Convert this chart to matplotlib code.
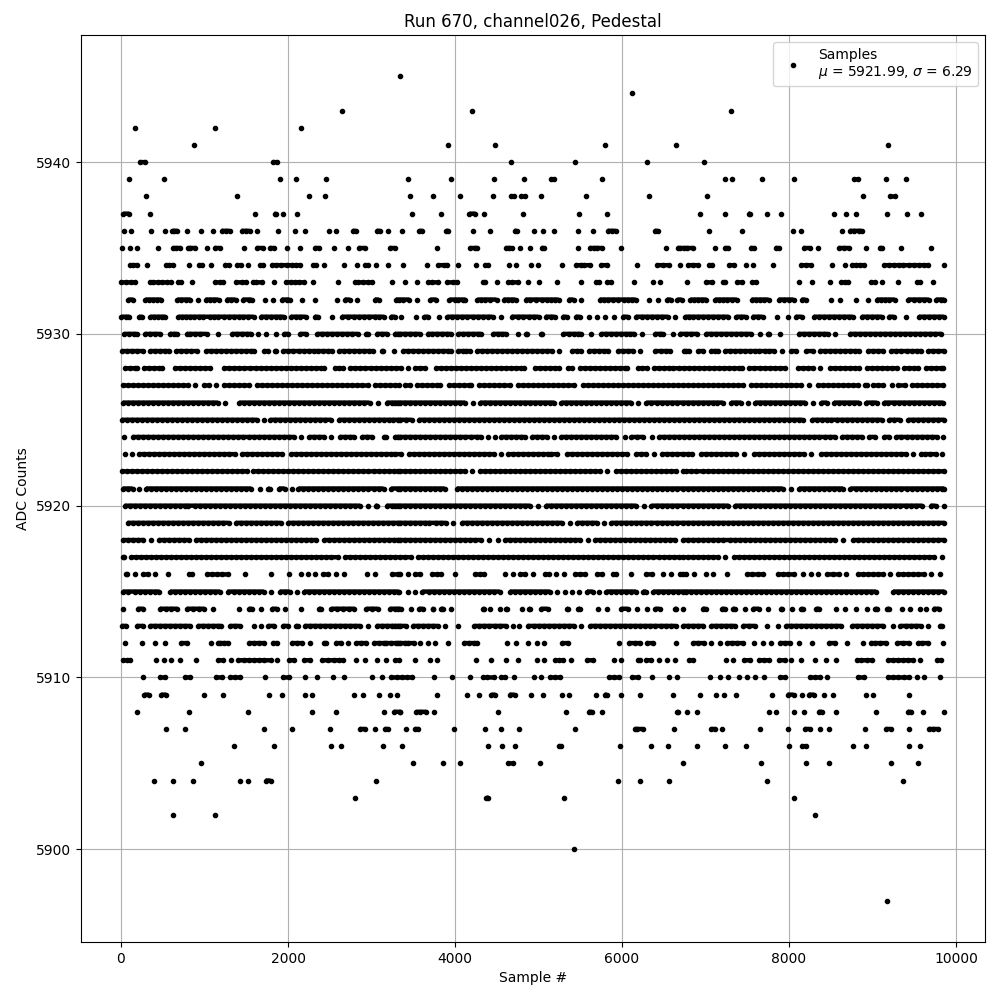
import matplotlib
matplotlib.use("Agg")
import matplotlib.pyplot as plt

# Sample numbers, one list per ADC count
s5945 = [3342]
s5944 = [6117]
s5943 = [2644, 4209, 7311]
s5942 = [172, 1120, 2152]
s5941 = [880, 3921, 4473, 5793, 6645, 9183]
s5940 = [232, 292, 1816, 1864, 4665, 5433, 6297, 6987]
s5939 = [100, 520, 1900, 2092, 2452, 3441, 3957, 4461, 4821, 5145, 5181, 5757, 7239, 7323, 7671, 8055, 8775, 8823, 9159, 9399]
s5938 = [304, 1384, 2248, 2440, 3465, 3741, 4065, 4449, 4665, 4701, 4785, 4833, 5025, 5565, 6321, 7023, 8883, 9207, 9267]
s5937 = [28, 100, 352, 1600, 1840, 1852, 1936, 2104, 3489, 3837, 4173, 4245, 4353, 4809, 5481, 5817, 6939, 7239, 7515, 7535, 7731, 7899, 8535, 8679, 8799, 9171, 9411, 9579]
s5936 = [40, 124, 364, 532, 616, 640, 676, 796, 964, 1096, 1204, 1252, 1300, 1444, 1492, 1540, 1624, 1876, 2080, 2200, 2488, 2572, 2776, 2812, 3064, 3100, 3200, 3369, 3573, 3609, 3897, 3921, 4221, 4425, 4713, 4737, 4941, 5049, 5181, 5469, 5649, 5829, 5877, 5925, 6393, 6429, 7047, 7431, 8043, 8139, 8631, 8727, 8775, 8835, 8871]
s5935 = [16, 112, 196, 448, 628, 664, 712, 808, 832, 892, 1024, 1120, 1180, 1468, 1624, 1696, 1780, 1828, 1992, 2140, 2320, 2368, 2548, 2716, 2848, 2920, 3220, 3280, 3789, 4185, 4245, 4269, 4605, 4641, 4677, 4773, 4893, 5037, 5061, 5469, 5613, 5661, 5697, 5757, 5985, 6525, 6669, 6693, 6747, 6783, 6855, 7119, 7239, 7275, 7539, 7575, 7839, 7875, 8175, 8247, 8343, 8595, 8655, 8715, 8919, 9087, 9111, 9339, 9699]
s5934 = [108, 148, 188, 316, 540, 580, 628, 816, 940, 976, 1072, 1240, 1288, 1384, 1432, 1524, 1660, 1696, 1804, 1852, 1912, 1984, 2048, 2092, 2140, 2296, 2332, 2428, 2668, 2824, 2920, 2956, 3052, 3196, 3381, 3669, 3801, 3873, 3909, 4041, 4257, 4365, 4401, 4641, 4725, 4905, 4989, 5277, 5445, 5505, 5541, 5613, 5745, 5817, 6177, 6417, 6489, 6561, 6693, 6795, 6855, 6915, 7047, 7083, 7287, 7347, 7479, 7563, 7803, 8139, 8199, 8259, 8511, 8667, 8751, 8799, 8847, 8895, 9135, 9195, 9255, 9315, 9363, 9435, 9495, 9555, 9615, 9663, 9855]
s5933 = [4, 64, 124, 172, 352, 388, 448, 496, 556, 604, 688, 724, 848, 1120, 1180, 1216, 1372, 1444, 1492, 1576, 1612, 1684, 1828, 1972, 2032, 2080, 2128, 2188, 2296, 2596, 2800, 2836, 2896, 2956, 3008, 3244, 3405, 3549, 3681, 3729, 3801, 3909, 3981, 4029, 4341, 4365, 4497, 4629, 4677, 4749, 4869, 5001, 5217, 5505, 5685, 5721, 5817, 5865, 6141, 6369, 6453, 6783, 7011, 7083, 7215, 7239, 7383, 7431, 7551, 7599, 8115, 8271, 8487, 8619, 8667, 8703, 8979, 9027, 9111, 9303, 9531, 9567, 9723]
s5932 = [88, 148, 292, 340, 388, 436, 484, 676, 724, 784, 832, 928, 1012, 1060, 1108, 1168, 1264, 1312, 1372, 1456, 1528, 1564, 1720, 1816, 1924, 1984, 2020, 2164, 2320, 2584, 2680, 2740, 2824, 3040, 3088, 3292, 3329, 3377, 3453, 3549, 3705, 3777, 3933, 4005, 4041, 4101, 4125, 4269, 4317, 4365, 4425, 4497, 4581, 4629, 4677, 4725, 4845, 4893, 4965, 5037, 5097, 5145, 5193, 5241, 5361, 5421, 5505, 5733, 5781, 5829, 5889, 5949, 6021, 6069, 6117, 6165, 6321, 6429, 6537, 6585, 6663, 6715, 6819, 6867, 6915, 6963, 7011, 7115, 7163, 7211, 7259, 7315, 7375, 7551, 7599, 7647, 7695, 7755, 7875, 7935, 7995, 8055, 8151, 8199, 8499, 8607, 8799, 8947, 9051, 9099, 9147, 9195, 9267, 9423, 9495, 9555, 9615, 9675, 9759, 9819, 9860]
s5931 = [4, 64, 100, 220, 256, 352, 400, 448, 496, 532, 688, 736, 784, 832, 880, 940, 988, 1060, 1108, 1156, 1228, 1288, 1348, 1408, 1456, 1516, 1588, 1672, 1732, 1792, 1852, 1900, 1948, 2032, 2092, 2140, 2212, 2320, 2356, 2524, 2644, 2716, 2788, 2848, 2908, 2968, 3040, 3088, 3148, 3232, 3280, 3357, 3537, 3633, 3681, 3813, 3909, 3969, 4029, 4089, 4149, 4221, 4281, 4341, 4401, 4449, 4545, 4677, 4749, 4809, 4881, 4941, 5001, 5085, 5145, 5193, 5289, 5337, 5445, 5493, 5601, 5697, 5793, 5901, 6009, 6069, 6165, 6237, 6297, 6357, 6417, 6477, 6549, 6635, 6759, 6807, 6855, 6915, 6975, 7035, 7095, 7155, 7215, 7275, 7371, 7427, 7479, 7563, 7623, 7683, 7851, 7983, 8079, 8151, 8295, 8355, 8415, 8475, 8535, 8595, 8655, 8715, 8763, 8871, 8931, 8991, 9051, 9111, 9195, 9255, 9399, 9555, 9615, 9675, 9735, 9795, 9855]
s5930 = [40, 100, 150, 188, 288, 350, 410, 464, 588, 630, 668, 792, 824, 892, 952, 1024, 1156, 1332, 1390, 1450, 1510, 1556, 1636, 1732, 1852, 1956, 2000, 2148, 2216, 2352, 2412, 2472, 2532, 2592, 2652, 2712, 2772, 2836, 2940, 2956, 3060, 3120, 3188, 3281, 3316, 3340, 3400, 3460, 3520, 3577, 3673, 3730, 3790, 3850, 3900, 3949, 4041, 4100, 4160, 4220, 4280, 4309, 4453, 4510, 4560, 4609, 4749, 4853, 4861, 5033, 5041, 5297, 5360, 5420, 5470, 5509, 5633, 5753, 5810, 5870, 5930, 5990, 6050, 6100, 6149, 6237, 6393, 6450, 6489, 6605, 6693, 6767, 6830, 6903, 7007, 7070, 7130, 7190, 7250, 7310, 7370, 7430, 7490, 7543, 7647, 7747, 7763, 7895, 8115, 8175, 8235, 8295, 8355, 8415, 8463, 8555, 8727, 8790, 8850, 8910, 8970, 9030, 9090, 9150, 9210, 9270, 9330, 9390, 9450, 9510, 9570, 9630, 9690, 9750, 9823]
s5929 = [12, 72, 132, 192, 260, 352, 412, 472, 532, 576, 660, 720, 780, 836, 908, 1020, 1080, 1140, 1200, 1260, 1320, 1380, 1440, 1500, 1560, 1588, 1716, 1756, 1840, 1856, 1940, 2000, 2056, 2132, 2192, 2252, 2312, 2356, 2420, 2476, 2524, 2612, 2672, 2732, 2792, 2852, 2912, 2972, 3016, 3120, 3136, 3272, 3373, 3433, 3493, 3553, 3613, 3673, 3733, 3793, 3853, 3913, 3949, 4033, 4093, 4137, 4177, 4265, 4325, 4385, 4445, 4505, 4565, 4625, 4685, 4745, 4805, 4865, 4925, 4985, 5045, 5105, 5165, 5249, 5401, 5455, 5509, 5605, 5665, 5725, 5785, 5837, 5953, 6013, 6073, 6133, 6217, 6401, 6461, 6521, 6569, 6741, 6761, 6803, 6915, 6971, 7067, 7111, 7151, 7235, 7295, 7355, 7415, 7475, 7535, 7595, 7635, 7707, 7761, 7815, 7915, 8027, 8083, 8207, 8283, 8367, 8427, 8487, 8547, 8607, 8667, 8727, 8787, 8835, 8947, 9007, 9067, 9131, 9227, 9287, 9347, 9407, 9467, 9527, 9583, 9667, 9727, 9787, 9860]
s5928 = [44, 104, 164, 196, 276, 336, 396, 456, 496, 648, 708, 768, 828, 888, 948, 1008, 1068, 1232, 1292, 1352, 1412, 1472, 1544, 1620, 1680, 1740, 1800, 1860, 1920, 1980, 2040, 2100, 2160, 2220, 2280, 2340, 2400, 2428, 2564, 2612, 2660, 2748, 2808, 2868, 2928, 2988, 3048, 3108, 3168, 3228, 3288, 3349, 3443, 3521, 3581, 3641, 3773, 3833, 3893, 3953, 4013, 4073, 4133, 4193, 4253, 4313, 4373, 4433, 4493, 4553, 4613, 4673, 4733, 4793, 4829, 4961, 5021, 5081, 5141, 5201, 5241, 5353, 5397, 5497, 5557, 5617, 5677, 5737, 5797, 5857, 5917, 5977, 6037, 6061, 6193, 6245, 6297, 6385, 6445, 6505, 6565, 6609, 6685, 6739, 6799, 6859, 6919, 6979, 7039, 7099, 7159, 7219, 7279, 7339, 7399, 7431, 7523, 7575, 7651, 7711, 7771, 7831, 7891, 7951, 8107, 8167, 8227, 8287, 8371, 8491, 8551, 8611, 8671, 8731, 8791, 8835, 8931, 8991, 9051, 9111, 9171, 9231, 9291, 9379, 9439, 9499, 9547, 9635, 9695, 9755, 9815, 9847]
s5927 = [20, 80, 140, 200, 260, 320, 380, 440, 500, 560, 620, 680, 740, 800, 884, 992, 1052, 1136, 1232, 1292, 1352, 1412, 1472, 1528, 1628, 1688, 1748, 1808, 1868, 1928, 1988, 2048, 2108, 2168, 2228, 2288, 2348, 2408, 2468, 2528, 2588, 2648, 2708, 2768, 2828, 2888, 2956, 3040, 3100, 3160, 3220, 3280, 3325, 3405, 3461, 3545, 3605, 3665, 3725, 3785, 3821, 3929, 3989, 4049, 4109, 4169, 4197, 4285, 4345, 4405, 4465, 4525, 4585, 4661, 4753, 4813, 4873, 4933, 4993, 5053, 5113, 5173, 5233, 5293, 5353, 5429, 5533, 5593, 5653, 5713, 5773, 5833, 5893, 5953, 6013, 6073, 6133, 6193, 6253, 6313, 6373, 6433, 6493, 6553, 6613, 6673, 6729, 6785, 6845, 6905, 6965, 7025, 7085, 7145, 7205, 7265, 7325, 7385, 7451, 7543, 7603, 7663, 7723, 7783, 7843, 7903, 7963, 8023, 8083, 8143, 8235, 8347, 8407, 8467, 8527, 8587, 8647, 8707, 8767, 8823, 8911, 8931, 9011, 9071, 9131, 9231, 9311, 9387, 9475, 9535, 9595, 9655, 9715, 9775, 9847]
s5926 = [20, 80, 140, 200, 260, 320, 380, 440, 500, 560, 620, 680, 740, 800, 860, 920, 980, 1040, 1100, 1160, 1244, 1416, 1476, 1536, 1596, 1656, 1716, 1776, 1836, 1896, 1956, 2016, 2076, 2136, 2196, 2256, 2316, 2376, 2436, 2496, 2556, 2616, 2676, 2736, 2796, 2856, 2916, 2976, 3076, 3180, 3240, 3316, 3281, 3341, 3401, 3461, 3521, 3581, 3641, 3701, 3761, 3821, 3881, 3941, 4001, 4061, 4121, 4221, 4301, 4361, 4421, 4481, 4541, 4601, 4661, 4721, 4781, 4841, 4901, 4961, 5021, 5081, 5141, 5189, 5273, 5333, 5393, 5453, 5513, 5573, 5633, 5693, 5753, 5813, 5873, 5933, 5993, 6053, 6113, 6197, 6293, 6353, 6413, 6473, 6533, 6593, 6653, 6729, 6785, 6845, 6905, 6965, 7025, 7085, 7135, 7207, 7307, 7367, 7427, 7511, 7595, 7655, 7715, 7775, 7835, 7895, 7955, 8015, 8075, 8135, 8195, 8283, 8387, 8455, 8539, 8599, 8659, 8719, 8779, 8839, 8923, 8999, 9051, 9139, 9183, 9259, 9319, 9379, 9439, 9499, 9559, 9619, 9679, 9739, 9799, 9847]
s5925 = [8, 68, 128, 188, 248, 308, 368, 428, 488, 548, 608, 668, 728, 788, 848, 908, 968, 1028, 1088, 1148, 1208, 1268, 1328, 1388, 1448, 1508, 1568, 1628, 1708, 1788, 1848, 1908, 1968, 2028, 2088, 2148, 2208, 2268, 2328, 2388, 2448, 2516, 2608, 2668, 2728, 2788, 2848, 2908, 2968, 3028, 3088, 3148, 3208, 3256, 3316, 3337, 3409, 3481, 3565, 3625, 3685, 3745, 3805, 3865, 3925, 3985, 4045, 4105, 4165, 4225, 4285, 4345, 4405, 4465, 4525, 4585, 4645, 4705, 4765, 4825, 4885, 4945, 5005, 5065, 5125, 5185, 5245, 5305, 5365, 5425, 5485, 5545, 5605, 5665, 5725, 5785, 5845, 5905, 5965, 6025, 6085, 6145, 6205, 6265, 6325, 6385, 6445, 6505, 6565, 6625, 6685, 6745, 6805, 6865, 6925, 6985, 7045, 7105, 7165, 7225, 7285, 7345, 7405, 7465, 7525, 7585, 7645, 7705, 7765, 7825, 7885, 7945, 8005, 8065, 8125, 8163, 8275, 8335, 8395, 8455, 8503, 8579, 8639, 8699, 8759, 8819, 8879, 8939, 8999, 9059, 9111, 9199, 9259, 9327, 9427, 9487, 9547, 9607, 9667, 9727, 9787, 9859]
s5924 = [40, 140, 200, 260, 320, 380, 440, 500, 560, 620, 680, 740, 800, 860, 920, 980, 1040, 1100, 1160, 1220, 1280, 1340, 1400, 1456, 1532, 1592, 1652, 1712, 1772, 1832, 1892, 1952, 2012, 2072, 2156, 2256, 2316, 2376, 2436, 2516, 2620, 2680, 2740, 2788, 2888, 2946, 3004, 3152, 3168, 3284, 3316, 3341, 3401, 3461, 3521, 3581, 3641, 3701, 3761, 3821, 3881, 3941, 4001, 4061, 4121, 4189, 4265, 4313, 4393, 4473, 4553, 4613, 4673, 4733, 4793, 4833, 4921, 4981, 5041, 5101, 5185, 5273, 5333, 5393, 5453, 5513, 5573, 5633, 5693, 5753, 5813, 5873, 5933, 6033, 6113, 6177, 6253, 6357, 6445, 6505, 6565, 6625, 6685, 6745, 6805, 6865, 6925, 6985, 7045, 7105, 7165, 7225, 7285, 7345, 7405, 7465, 7525, 7585, 7645, 7705, 7765, 7825, 7885, 7945, 8005, 8065, 8125, 8185, 8245, 8305, 8365, 8425, 8485, 8551, 8635, 8695, 8755, 8815, 8875, 8963, 9035, 9139, 9203, 9287, 9347, 9407, 9467, 9527, 9587, 9647, 9707, 9767, 9847]
s5923 = [44, 128, 212, 272, 332, 392, 452, 512, 572, 632, 692, 752, 812, 872, 932, 992, 1052, 1112, 1172, 1232, 1292, 1364, 1448, 1508, 1568, 1628, 1688, 1748, 1808, 1868, 1924, 2036, 2096, 2156, 2216, 2276, 2336, 2396, 2456, 2516, 2576, 2636, 2696, 2756, 2816, 2876, 2936, 2996, 3056, 3116, 3176, 3236, 3281, 3349, 3445, 3505, 3565, 3625, 3685, 3745, 3805, 3865, 3925, 3985, 4045, 4105, 4165, 4225, 4285, 4345, 4405, 4465, 4549, 4633, 4693, 4753, 4813, 4873, 4933, 4993, 5053, 5113, 5149, 5225, 5341, 5401, 5461, 5521, 5581, 5641, 5701, 5761, 5821, 5881, 5941, 6001, 6061, 6169, 6229, 6289, 6389, 6473, 6533, 6593, 6653, 6729, 6785, 6843, 6943, 7003, 7063, 7123, 7183, 7243, 7303, 7363, 7455, 7579, 7639, 7699, 7759, 7819, 7879, 7939, 7999, 8059, 8119, 8179, 8259, 8383, 8443, 8503, 8563, 8623, 8683, 8743, 8803, 8863, 8923, 8983, 9043, 9103, 9163, 9223, 9283, 9343, 9403, 9483, 9575, 9630, 9683, 9755, 9835]
s5922 = [8, 68, 128, 188, 248, 308, 368, 428, 488, 548, 608, 668, 728, 788, 848, 908, 968, 1028, 1088, 1148, 1208, 1268, 1328, 1388, 1448, 1504, 1584, 1644, 1704, 1764, 1824, 1884, 1944, 2004, 2064, 2124, 2184, 2244, 2304, 2364, 2424, 2484, 2544, 2604, 2664, 2724, 2784, 2844, 2904, 2964, 3024, 3084, 3144, 3204, 3264, 3316, 3341, 3401, 3461, 3521, 3581, 3641, 3701, 3761, 3821, 3881, 3941, 4001, 4061, 4121, 4201, 4297, 4357, 4417, 4477, 4537, 4597, 4657, 4717, 4777, 4837, 4897, 4957, 5017, 5077, 5137, 5197, 5257, 5317, 5377, 5437, 5497, 5557, 5617, 5677, 5737, 5817, 5929, 5989, 6049, 6109, 6169, 6229, 6289, 6349, 6409, 6469, 6529, 6589, 6649, 6729, 6769, 6829, 6891, 6967, 7027, 7087, 7147, 7207, 7267, 7327, 7387, 7447, 7507, 7567, 7627, 7687, 7747, 7807, 7867, 7927, 7987, 8047, 8107, 8167, 8227, 8287, 8347, 8407, 8467, 8527, 8587, 8647, 8707, 8767, 8827, 8887, 8947, 9007, 9067, 9127, 9187, 9247, 9307, 9367, 9427, 9487, 9547, 9607, 9667, 9727, 9787, 9859]
s5921 = [20, 80, 140, 220, 300, 360, 420, 480, 540, 600, 660, 720, 780, 840, 900, 960, 1020, 1080, 1140, 1200, 1260, 1320, 1380, 1440, 1500, 1560, 1660, 1764, 1780, 1892, 1960, 2044, 2124, 2184, 2244, 2304, 2364, 2424, 2484, 2544, 2604, 2664, 2724, 2784, 2844, 2904, 2964, 3024, 3084, 3144, 3236, 3312, 3341, 3401, 3461, 3521, 3581, 3641, 3701, 3761, 3821, 3877, 4021, 4081, 4141, 4201, 4261, 4321, 4381, 4441, 4501, 4561, 4621, 4681, 4741, 4801, 4861, 4921, 4981, 5041, 5101, 5161, 5221, 5281, 5341, 5401, 5461, 5521, 5581, 5641, 5701, 5761, 5821, 5881, 5941, 6001, 6061, 6121, 6181, 6241, 6301, 6361, 6421, 6481, 6541, 6601, 6661, 6729, 6785, 6845, 6905, 6965, 7025, 7085, 7145, 7205, 7265, 7325, 7385, 7445, 7505, 7565, 7625, 7685, 7745, 7805, 7865, 7925, 8023, 8119, 8179, 8239, 8299, 8359, 8419, 8479, 8539, 8599, 8647, 8735, 8807, 8867, 8927, 8987, 9047, 9107, 9167, 9227, 9287, 9347, 9407, 9467, 9527, 9587, 9647, 9707, 9767, 9827, 9860]
s5920 = [44, 104, 164, 224, 284, 344, 404, 464, 524, 584, 644, 704, 764, 808, 884, 944, 1004, 1064, 1124, 1184, 1244, 1304, 1364, 1424, 1484, 1544, 1604, 1664, 1724, 1784, 1844, 1904, 1964, 2024, 2084, 2144, 2204, 2264, 2324, 2384, 2444, 2504, 2564, 2624, 2684, 2744, 2804, 2864, 2956, 3048, 3068, 3180, 3240, 3316, 3281, 3341, 3401, 3461, 3521, 3581, 3641, 3701, 3761, 3821, 3881, 3941, 4001, 4061, 4121, 4181, 4241, 4301, 4361, 4421, 4481, 4541, 4601, 4661, 4721, 4781, 4841, 4901, 4997, 5089, 5149, 5209, 5269, 5329, 5389, 5449, 5509, 5569, 5629, 5689, 5749, 5809, 5869, 5929, 5989, 6049, 6109, 6169, 6269, 6353, 6413, 6473, 6533, 6593, 6653, 6729, 6785, 6845, 6905, 6965, 7025, 7085, 7145, 7205, 7275, 7355, 7415, 7475, 7535, 7595, 7655, 7715, 7775, 7835, 7895, 7955, 8015, 8075, 8135, 8195, 8255, 8315, 8375, 8435, 8495, 8555, 8615, 8675, 8735, 8795, 8855, 8915, 8975, 9035, 9095, 9155, 9215, 9275, 9335, 9395, 9455, 9523, 9595, 9695, 9755, 9860]
s5919 = [80, 140, 200, 260, 320, 380, 440, 500, 560, 620, 680, 740, 800, 860, 920, 980, 1040, 1100, 1160, 1220, 1288, 1376, 1436, 1496, 1556, 1616, 1676, 1736, 1796, 1856, 1912, 2000, 2060, 2120, 2180, 2240, 2300, 2360, 2420, 2480, 2540, 2600, 2660, 2720, 2780, 2840, 2900, 2960, 3020, 3080, 3140, 3200, 3260, 3316, 3341, 3401, 3461, 3521, 3581, 3641, 3693, 3769, 3829, 3889, 3981, 4081, 4141, 4201, 4261, 4321, 4381, 4441, 4501, 4561, 4621, 4681, 4741, 4801, 4861, 4921, 4981, 5041, 5101, 5161, 5221, 5281, 5377, 5461, 5521, 5581, 5641, 5701, 5781, 5873, 5933, 5993, 6053, 6113, 6173, 6233, 6293, 6353, 6413, 6473, 6533, 6593, 6653, 6729, 6785, 6845, 6905, 6965, 7025, 7085, 7145, 7205, 7265, 7325, 7385, 7445, 7505, 7565, 7625, 7685, 7745, 7805, 7865, 7925, 7985, 8045, 8105, 8165, 8225, 8285, 8345, 8405, 8465, 8525, 8585, 8645, 8705, 8765, 8825, 8885, 8945, 9005, 9065, 9125, 9185, 9245, 9305, 9365, 9425, 9485, 9545, 9605, 9665, 9725, 9785, 9859]
s5918 = [28, 88, 148, 208, 268, 364, 452, 512, 572, 632, 692, 752, 812, 896, 956, 1016, 1076, 1136, 1196, 1256, 1316, 1376, 1436, 1496, 1556, 1616, 1676, 1736, 1796, 1856, 1916, 1976, 2036, 2096, 2156, 2216, 2276, 2336, 2432, 2492, 2552, 2612, 2672, 2732, 2792, 2852, 2912, 2972, 3032, 3092, 3152, 3212, 3272, 3316, 3341, 3401, 3461, 3521, 3581, 3641, 3701, 3761, 3821, 3881, 3941, 4001, 4061, 4121, 4181, 4241, 4309, 4413, 4509, 4601, 4661, 4721, 4781, 4841, 4901, 4961, 5021, 5081, 5141, 5201, 5261, 5321, 5381, 5441, 5501, 5597, 5677, 5737, 5797, 5857, 5917, 5977, 6037, 6097, 6157, 6217, 6277, 6337, 6397, 6457, 6517, 6577, 6635, 6729, 6789, 6849, 6909, 6969, 7029, 7089, 7149, 7215, 7291, 7351, 7411, 7471, 7531, 7591, 7651, 7711, 7771, 7831, 7891, 7951, 8011, 8071, 8131, 8191, 8251, 8311, 8371, 8431, 8491, 8551, 8643, 8767, 8827, 8887, 8947, 9007, 9067, 9127, 9187, 9247, 9307, 9367, 9427, 9487, 9547, 9607, 9667, 9727, 9787, 9859]
s5917 = [20, 36, 120, 180, 240, 300, 360, 420, 480, 540, 600, 660, 720, 780, 840, 900, 960, 1020, 1080, 1140, 1200, 1260, 1320, 1380, 1440, 1500, 1560, 1620, 1680, 1740, 1800, 1860, 1920, 1980, 2040, 2100, 2160, 2220, 2280, 2340, 2400, 2460, 2520, 2596, 2684, 2744, 2804, 2864, 2924, 2984, 3044, 3104, 3164, 3224, 3284, 3341, 3401, 3477, 3557, 3617, 3677, 3737, 3797, 3857, 3917, 3977, 4037, 4097, 4157, 4217, 4277, 4337, 4397, 4457, 4517, 4577, 4637, 4697, 4757, 4817, 4877, 4937, 4997, 5057, 5117, 5177, 5237, 5297, 5357, 5417, 5477, 5537, 5597, 5657, 5717, 5777, 5837, 5897, 5957, 6017, 6077, 6137, 6197, 6257, 6317, 6377, 6437, 6497, 6557, 6617, 6677, 6729, 6785, 6845, 6905, 6965, 7025, 7085, 7145, 7231, 7339, 7399, 7459, 7519, 7579, 7639, 7699, 7759, 7819, 7879, 7939, 7999, 8059, 8119, 8179, 8239, 8299, 8359, 8419, 8479, 8539, 8599, 8659, 8719, 8779, 8839, 8899, 8959, 9019, 9079, 9139, 9199, 9259, 9319, 9379, 9439, 9499, 9559, 9619, 9679, 9739, 9835]
s5916 = [60, 76, 172, 260, 320, 412, 568, 812, 856, 1028, 1090, 1150, 1208, 1276, 1480, 1792, 2008, 2152, 2236, 2326, 2420, 2480, 2576, 2668, 2944, 3040, 3240, 3316, 3341, 3441, 3525, 3585, 3721, 3780, 3837, 4005, 4241, 4300, 4353, 4601, 4689, 4777, 4840, 4929, 5081, 5121, 5213, 5301, 5441, 5500, 5553, 5705, 5757, 5897, 5925, 6105, 6293, 6360, 6489, 6585, 6693, 6729, 6763, 6867, 7007, 7095, 7263, 7495, 7560, 7625, 7683, 7867, 7930, 7990, 8055, 8163, 8259, 8343, 8459, 8525, 8595, 8687, 8831, 8890, 8950, 9010, 9070, 9130, 9211, 9307, 9367, 9427, 9487, 9547, 9615, 9699, 9807]
s5915 = [20, 88, 164, 224, 284, 344, 404, 460, 588, 648, 708, 768, 828, 888, 948, 1008, 1068, 1128, 1188, 1276, 1352, 1412, 1472, 1532, 1592, 1652, 1712, 1796, 1900, 1960, 2020, 2104, 2192, 2252, 2312, 2372, 2432, 2492, 2552, 2612, 2672, 2732, 2792, 2852, 2912, 2972, 3032, 3092, 3152, 3212, 3272, 3316, 3325, 3433, 3520, 3609, 3685, 3745, 3805, 3865, 3925, 3985, 4045, 4105, 4165, 4225, 4285, 4345, 4405, 4465, 4537, 4657, 4717, 4777, 4837, 4897, 4957, 5017, 5077, 5137, 5217, 5313, 5401, 5481, 5581, 5650, 5729, 5813, 5873, 5933, 5993, 6053, 6113, 6169, 6253, 6289, 6373, 6433, 6493, 6553, 6613, 6673, 6729, 6763, 6823, 6883, 6943, 7003, 7063, 7123, 7183, 7243, 7303, 7363, 7423, 7483, 7543, 7603, 7663, 7723, 7783, 7843, 7903, 7963, 8023, 8083, 8143, 8203, 8263, 8323, 8383, 8443, 8503, 8563, 8623, 8683, 8743, 8803, 8863, 8923, 8983, 9043, 9247, 9307, 9367, 9427, 9487, 9547, 9607, 9667, 9727, 9787, 9860]
s5914 = [28, 200, 268, 468, 536, 604, 676, 788, 860, 930, 996, 1096, 1414, 1532, 1568, 1672, 1812, 1868, 1960, 2152, 2372, 2396, 2520, 2590, 2660, 2730, 2796, 2940, 3000, 3076, 3220, 3316, 3281, 3349, 3477, 3569, 3617, 3733, 3737, 3833, 3861, 3957, 4337, 4345, 4425, 4533, 4613, 4621, 4797, 4889, 4897, 5033, 5109, 5345, 5353, 5477, 5497, 5709, 5817, 5993, 6069, 6185, 6300, 6400, 6449, 6633, 6649, 6735, 6967, 7003, 7199, 7231, 7331, 7351, 7467, 7571, 7640, 7747, 7907, 7915, 8037, 8147, 8163, 8327, 8363, 8559, 8667, 8799, 8931, 9035, 9055, 9179, 9203, 9351, 9447, 9563, 9643, 9731, 9799]
s5913 = [8, 64, 192, 264, 348, 408, 468, 528, 588, 648, 708, 768, 828, 920, 980, 1040, 1100, 1160, 1196, 1308, 1364, 1420, 1592, 1676, 1764, 1836, 1940, 1996, 2100, 2116, 2200, 2260, 2320, 2380, 2440, 2500, 2560, 2620, 2680, 2740, 2800, 2860, 2956, 3060, 3120, 3180, 3240, 3316, 3281, 3345, 3409, 3493, 3553, 3613, 3673, 3733, 3793, 3881, 4041, 4233, 4293, 4353, 4413, 4473, 4533, 4609, 4689, 4769, 4869, 4945, 5005, 5065, 5125, 5185, 5245, 5305, 5365, 5425, 5513, 5621, 5681, 5741, 5801, 5861, 5921, 5981, 6041, 6101, 6161, 6221, 6281, 6341, 6401, 6461, 6521, 6581, 6641, 6729, 6795, 6855, 6915, 6975, 7067, 7127, 7187, 7247, 7307, 7351, 7447, 7520, 7591, 7731, 7869, 7967, 8027, 8087, 8147, 8207, 8267, 8327, 8387, 8447, 8507, 8567, 8623, 8755, 8815, 8875, 8935, 8995, 9055, 9131, 9243, 9335, 9395, 9455, 9515, 9575, 9663, 9807, 9827]
s5912 = [52, 256, 412, 532, 724, 796, 1072, 1156, 1188, 1228, 1276, 1532, 1592, 1652, 1716, 1816, 1868, 2044, 2108, 2164, 2260, 2428, 2460, 2572, 2640, 2724, 2820, 2880, 2940, 3024, 3084, 3144, 3172, 3232, 3292, 3316, 3341, 3401, 3441, 3505, 3585, 3673, 3761, 3921, 4105, 4165, 4225, 4269, 4617, 4725, 4869, 4977, 5061, 5281, 5353, 5961, 6081, 6153, 6213, 6297, 6369, 6645, 6855, 6915, 6979, 7067, 7179, 7263, 7323, 7383, 7443, 7575, 7683, 7787, 7887, 7947, 8007, 8115, 8275, 8475, 8551, 8691, 8883, 8979, 9027, 9087, 9159, 9291, 9363, 9435, 9543, 9591, 9663, 9843]
s5911 = [28, 72, 104, 424, 520, 604, 712, 904, 1156, 1216, 1312, 1396, 1468, 1532, 1592, 1652, 1716, 1792, 1872, 2008, 2076, 2188, 2260, 2404, 2476, 2548, 2612, 2656, 2812, 2920, 3068, 3168, 3276, 3329, 3525, 3705, 3789, 4257, 4437, 4605, 4749, 4977, 5061, 5193, 5241, 5289, 5385, 5577, 5649, 5901, 5990, 6193, 6213, 6293, 6353, 6440, 6537, 6637, 6800, 6855, 7251, 7335, 7455, 7527, 7635, 7695, 7755, 7875, 7947, 8027, 8147, 8307, 8439, 8559, 8811, 8859, 8931, 8991, 9183, 9243, 9303, 9363, 9423, 9483, 9567, 9771, 9819]
s5910 = [268, 472, 532, 772, 832, 1132, 1204, 1300, 1360, 1420, 1720, 1936, 2008, 2200, 2348, 2536, 2668, 3004, 3124, 3232, 3300, 3369, 3429, 3481, 3753, 3969, 4185, 4341, 4389, 4461, 4545, 4593, 4701, 4941, 5025, 5133, 5193, 5253, 5841, 5901, 5961, 6117, 6189, 6357, 6561, 6661, 7059, 7179, 7275, 7399, 7491, 7587, 7695, 7887, 7947, 8247, 8307, 8367, 8451, 8823, 8895, 9183, 9248, 9311, 9371, 9431, 9535, 9615, 9807]
s5909 = [280, 336, 480, 540, 992, 1216, 1768, 1924, 2200, 2284, 2788, 2896, 3088, 3220, 3309, 3789, 4149, 4293, 4437, 4481, 4653, 4713, 4905, 5049, 5277, 5361, 5685, 5793, 5817, 5985, 6213, 6609, 6939, 7131, 7227, 7371, 7791, 7983, 8055, 8151, 8235, 8300, 8415, 8523, 8919, 9003, 9431]
s5908 = [196, 820, 1516, 2284, 2572, 3148, 3268, 3340, 3345, 3537, 3581, 3657, 3753, 4509, 5325, 5601, 5641, 5757, 6669, 6663, 6783, 6903, 7755, 7839, 8055, 8175, 8355, 8395, 8559, 9039, 9423, 9463, 9603, 9860]
s5907 = [544, 772, 1708, 2044, 2500, 2860, 2920, 3040, 3160, 3200, 3417, 3525, 3561, 3993, 4365, 4545, 4761, 5433, 6153, 6177, 6249, 6621, 7071, 7119, 7203, 7647, 7983, 8187, 8247, 8367, 8475, 8907, 9159, 9219, 9435, 9675, 9723, 9783]
s5906 = [1348, 1828, 2512, 2632, 3136, 3369, 4401, 4565, 4713, 5241, 5265, 5981, 6345, 6549, 6903, 7239, 7479, 7995, 8151, 8199, 8763, 8919, 9435, 9567]
s5905 = [964, 3501, 3861, 4065, 4629, 4689, 5013, 6729, 7659, 8199, 8475, 9219, 9543]
s5904 = [400, 628, 868, 1420, 1516, 1732, 1792, 3052, 5949, 6213, 6561, 7731, 9363]
s5903 = [2800, 4377, 4401, 5301, 8055]
s5902 = [628, 1120, 8307]
s5900 = [5421]
s5897 = [9171]

levels = [5945, 5944, 5943, 5942, 5941, 5940, 5939, 5938, 5937, 5936, 5935, 5934, 5933, 5932, 5931, 5930, 5929, 5928,
          5927, 5926, 5925, 5924, 5923, 5922, 5921, 5920, 5919, 5918, 5917, 5916, 5915, 5914, 5913, 5912, 5911, 5910,
          5909, 5908, 5907, 5906, 5905, 5904, 5903, 5902, 5900, 5897]
rows = [s5945, s5944, s5943, s5942, s5941, s5940, s5939, s5938, s5937, s5936, s5935, s5934, s5933, s5932, s5931, s5930, s5929, s5928,
        s5927, s5926, s5925, s5924, s5923, s5922, s5921, s5920, s5919, s5918, s5917, s5916, s5915, s5914, s5913, s5912, s5911, s5910,
        s5909, s5908, s5907, s5906, s5905, s5904, s5903, s5902, s5900, s5897]

fig, ax = plt.subplots(figsize=(10, 10), dpi=100)
xs, ys, bridge_x, bridge_y = [], [], [], []
for level, row in zip(levels, rows):
    ordered = sorted(row)
    xs.extend(ordered)
    ys.extend([level] * len(ordered))
    for a, b in zip(ordered, ordered[1:]):
        # the reference has a dot at nearly every sample in dense rows: close the necks between read-off dots
        if b - a <= 76:
            bridge_x.extend([a, b, float("nan")])
            bridge_y.extend([level, level, float("nan")])

ax.plot(bridge_x, bridge_y, "-", color="black", lw=3.2, solid_capstyle="butt")
ax.plot(xs, ys, ".", color="black", label="Samples\n$\\mu$ = 5921.99, $\\sigma$ = 6.29")
ax.set_xlim(-479, 10347)
ax.set_ylim(5894.6, 5947.4)
ax.set_title("Run 670, channel026, Pedestal")
ax.set_xlabel("Sample #")
ax.set_ylabel("ADC Counts")
ax.grid(True)
ax.legend(loc="upper right")
fig.subplots_adjust(left=0.081, right=0.985, top=0.965, bottom=0.058)
fig.savefig("out.png", dpi=100)
